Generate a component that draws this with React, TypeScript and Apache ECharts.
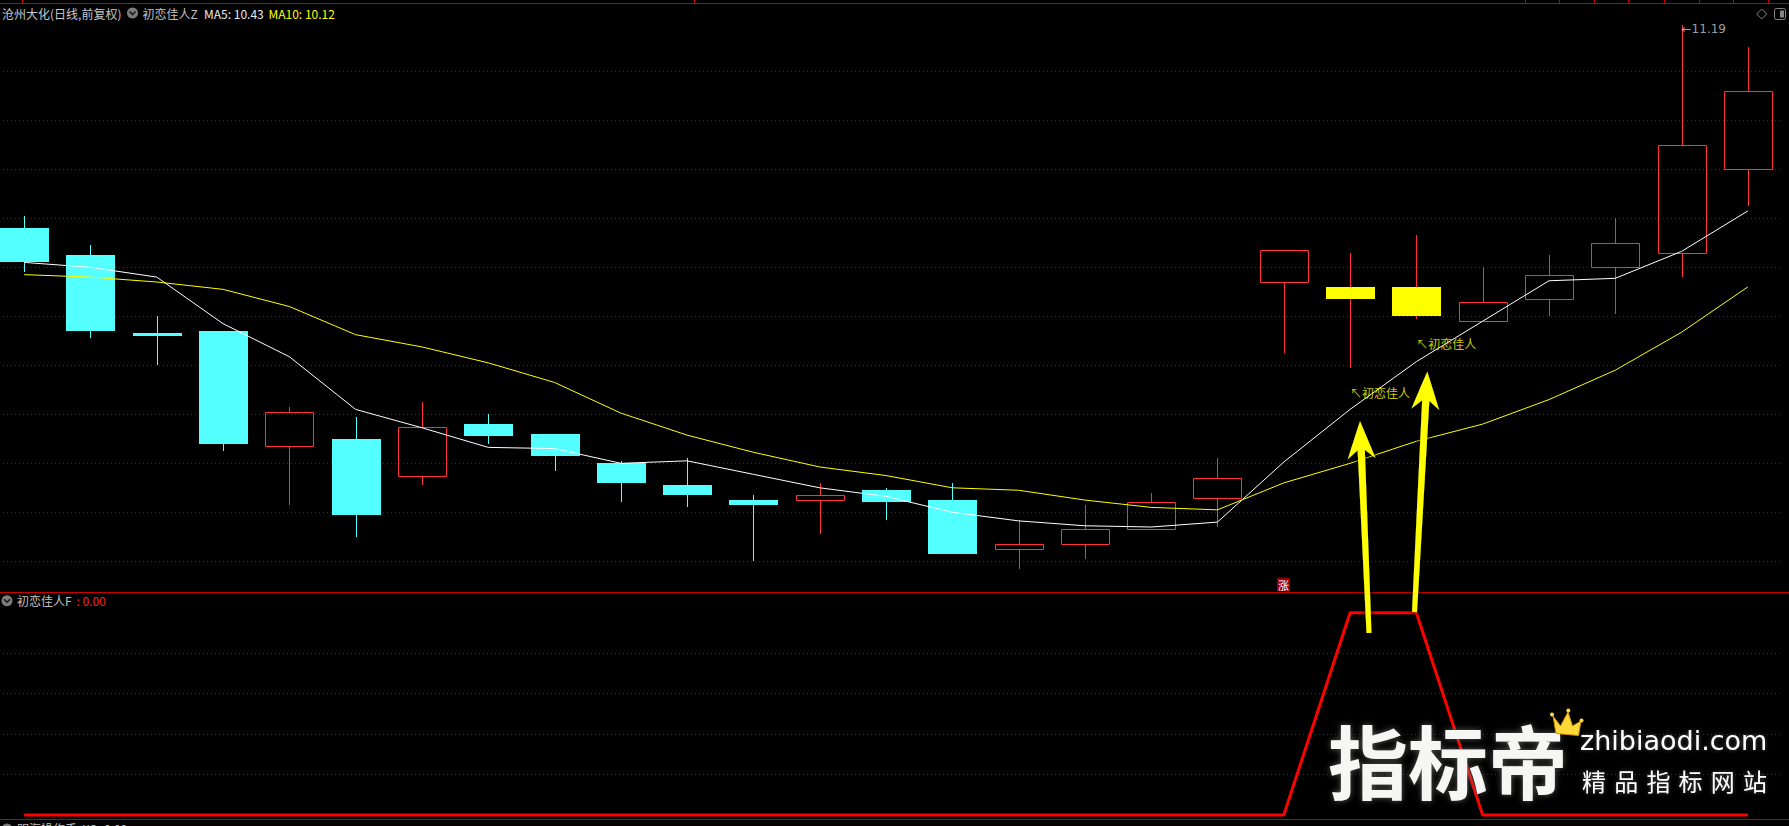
import React, { useEffect, useRef } from "react";
import * as echarts from "echarts";

// ---------------- data ----------------
const categories = [
  "1", "2", "3", "4", "5", "6", "7", "8", "9", "10", "11", "12", "13", "14",
  "15", "16", "17", "18", "19", "20", "21", "22", "23", "24", "25", "26", "27",
];
const opens = [
  10.36, 10.25, 9.93, 9.94, 9.47, 9.5, 9.35, 9.56, 9.52, 9.4, 9.31, 9.25, 9.25, 9.29,
  9.25, 9.05, 9.07, 9.13, 9.26, 10.14, 10.12, 10.12, 9.98, 10.07, 10.2, 10.26, 10.6,
];
const closes = [
  10.22, 9.94, 9.92, 9.48, 9.61, 9.19, 9.55, 9.51, 9.43, 9.32, 9.27, 9.23, 9.27, 9.24,
  9.03, 9.07, 9.13, 9.24, 9.34, 10.27, 10.07, 10.0, 10.06, 10.17, 10.3, 10.7, 10.92,
];
const lows = [
  10.18, 9.91, 9.8, 9.45, 9.23, 9.1, 9.31, 9.48, 9.37, 9.24, 9.22, 9.0, 9.11, 9.17,
  9.03, 8.97, 9.01, 9.13, 9.14, 9.85, 9.79, 9.99, 9.98, 10.0, 10.01, 10.16, 10.45,
];
const highs = [
  10.41, 10.29, 10.0, 9.94, 9.63, 9.59, 9.65, 9.6, 9.52, 9.41, 9.42, 9.27, 9.32, 9.3,
  9.32, 9.17, 9.23, 9.28, 9.42, 10.27, 10.26, 10.33, 10.2, 10.25, 10.4, 11.19, 11.1,
];
const ma5 = [
  10.22, 10.2, 10.16, 9.97, 9.835, 9.62, 9.545, 9.465, 9.46, 9.4, 9.41, 9.355, 9.3, 9.265,
  9.2, 9.165, 9.145, 9.14, 9.16, 9.405, 9.62, 9.815, 9.98, 10.145, 10.155, 10.265, 10.43,
];
const ma10 = [
  10.17, 10.16, 10.14, 10.11, 10.04, 9.925, 9.875, 9.81, 9.73, 9.605, 9.515, 9.445, 9.385, 9.35,
  9.3, 9.29, 9.25, 9.22, 9.21, 9.32, 9.4, 9.49, 9.56, 9.66, 9.78, 9.935, 10.12,
];
const fValues = [
  0, 0, 0, 0, 0, 0, 0, 0, 0, 0, 0, 0, 0, 0,
  0, 0, 0, 0, 0, 0, 1, 1, 0, 0, 0, 0, 0,
];
const signalDays = [20, 21];
const signalLabelPrices = [9.69, 9.89];
const lowMarkIndex = 15;
const lowMarkValue = 8.97;
const highMarkIndex = 25;
const highMarkValue = 11.19;
const titleMA5 = "MA5: 10.43";
const titleMA10 = "MA10: 10.12";
const fTitleValue = ": 0.00";

// ---------------- styles ----------------
const RED = "#ff3333";
const CYAN = "#54ffff";
const YEL = "#ffff00";
const GRIDC = "#a00000";
const BORDER = "#c80000";
const CJK = '"Noto Sans CJK SC", "Noto Sans", sans-serif';

function arrowPoints(tx: number, ty: number, hx: number, hy: number) {
  const dx = hx - tx;
  const dy = hy - ty;
  const len = Math.hypot(dx, dy);
  const ux = dx / len;
  const uy = dy / len;
  const nx = -uy;
  const ny = ux;
  const P = (a: number, s: number) => [tx + ux * a + nx * s, ty + uy * a + ny * s];
  const head = 38;
  const notch = 29;
  const hw = 14;
  return [
    P(0, -2.5),
    P(len - notch, -3.6),
    P(len - head, -hw),
    P(len, 0),
    P(len - head, hw),
    P(len - notch, 3.6),
    P(0, 2.5),
  ];
}

function titleIcon(cx: number, cy: number) {
  return [
    { type: "circle", shape: { cx, cy, r: 5.5 }, style: { fill: "#7c7c7c" }, z: 100 },
    {
      type: "polyline",
      shape: { points: [[cx - 3, cy - 1.5], [cx, cy + 1.5], [cx + 3, cy - 1.5]] },
      style: { stroke: "#1a1a1a", lineWidth: 1.6, fill: "none" },
      z: 101,
    },
  ];
}

function txt(text: string, x: number, y: number, fill: string, size = 12, extra: any = {}) {
  return {
    type: "text",
    x,
    y,
    z: 100,
    style: {
      text,
      fill,
      fontSize: size,
      fontFamily: CJK,
      align: "left",
      textAlign: "left",
      verticalAlign: "middle",
      textVerticalAlign: "middle",
      ...extra,
    },
  };
}

function buildOption() {
  const candleData = categories.map((_, i) => [
    i,
    opens[i],
    closes[i],
    lows[i],
    highs[i],
    signalDays.indexOf(i) >= 0 ? 1 : 0,
  ]);

  const renderCandle = (params: any, api: any) => {
    const idx = api.value(0);
    const o = api.value(1);
    const c = api.value(2);
    const lo = api.value(3);
    const hi = api.value(4);
    const sig = api.value(5);
    const pO = api.coord([idx, o]);
    const yC = api.coord([idx, c])[1];
    const yL = Math.round(api.coord([idx, lo])[1]);
    const yH = Math.round(api.coord([idx, hi])[1]);
    const band = api.size([1, 0])[0];
    const bw = Math.round(band * 0.74);
    const xc = Math.round(pO[0]);
    const left = xc - Math.floor(bw / 2);
    const top = Math.round(Math.min(pO[1], yC));
    const bot = Math.round(Math.max(pO[1], yC));
    const wx = xc + 0.5;
    const children: any[] = [];
    const ln = (y1: number, y2: number, color: string) => ({
      type: "line",
      shape: { x1: wx, y1, x2: wx, y2 },
      style: { stroke: color, lineWidth: 1 },
    });
    if (sig) {
      children.push(ln(yH, yL, RED));
      children.push({
        type: "rect",
        shape: { x: left, y: top, width: bw, height: Math.max(bot - top, 2) },
        style: { fill: YEL },
      });
    } else if (c >= o) {
      if (yH < top) children.push(ln(yH, top, RED));
      if (yL > bot) children.push(ln(bot + 1, yL, RED));
      children.push({
        type: "rect",
        shape: { x: left + 0.5, y: top + 0.5, width: bw - 1, height: Math.max(bot - top, 1) },
        style: { fill: "none", stroke: RED, lineWidth: 1 },
      });
    } else {
      children.push(ln(yH, yL, CYAN));
      children.push({
        type: "rect",
        shape: { x: left, y: top, width: bw, height: Math.max(bot - top, 2) },
        style: { fill: CYAN },
      });
    }
    return { type: "group", children };
  };

  const hiddenAxis = {
    axisLine: { show: false },
    axisTick: { show: false },
    axisLabel: { show: false },
  };
  const dotted = { color: GRIDC, type: [1, 3], width: 1 };

  const topTicks = [22, 694, 1525, 1559, 1594, 1628, 1664, 1699, 1733, 1768];

  const graphic: any[] = [
    // panel borders
    { type: "line", z: 90, shape: { x1: 0, y1: 3.5, x2: 1789, y2: 3.5 }, style: { stroke: BORDER, lineWidth: 1 } },
    ...topTicks.map((x) => ({
      type: "line",
      z: 90,
      shape: { x1: x + 0.5, y1: 0, x2: x + 0.5, y2: 3 },
      style: { stroke: BORDER, lineWidth: 1 },
    })),
    { type: "line", z: 90, shape: { x1: 0, y1: 592.5, x2: 1789, y2: 592.5 }, style: { stroke: BORDER, lineWidth: 1 } },
    { type: "line", z: 90, shape: { x1: 0, y1: 819.5, x2: 1789, y2: 819.5 }, style: { stroke: BORDER, lineWidth: 1 } },

    // top title row
    txt("沧州大化(日线,前复权)", 2, 13, "#c8c8c8"),
    ...titleIcon(132.5, 13),
    txt("初恋佳人Z", 142.5, 13, "#c0c0c0"),
    txt(titleMA5, 204, 13, "#ececec"),
    txt(titleMA10, 268.5, 13, YEL),

    // top-right icons
    {
      type: "polygon",
      z: 100,
      shape: { points: [[1761.7, 9], [1766.7, 14], [1761.7, 19], [1756.7, 14]] },
      style: { fill: "none", stroke: "#858585", lineWidth: 1 },
    },
    {
      type: "rect",
      z: 100,
      shape: { x: 1774.5, y: 8.5, width: 11, height: 11, r: 2 },
      style: { fill: "none", stroke: "#858585", lineWidth: 1 },
    },
    { type: "rect", z: 100, shape: { x: 1780, y: 10.5, width: 4, height: 7 }, style: { fill: "#858585" } },

    // lower panel title
    ...titleIcon(7, 600.7),
    txt("初恋佳人F", 17, 600.7, "#c0c0c0"),
    txt(fTitleValue, 76.5, 600.7, "#ff2020"),

    // third panel title (cut off by the bottom edge, as in the reference)
    ...titleIcon(7, 829),
    txt("明海操作手  XO: 0.00", 17, 822, "#c0c0c0", 12, { verticalAlign: "top", textVerticalAlign: "top" }),

    // "涨" badge
    { type: "rect", z: 100, shape: { x: 1277, y: 578, width: 13, height: 13 }, style: { fill: "#9a0000" } },
    {
      type: "text",
      z: 101,
      x: 1283.5,
      y: 584.5,
      style: {
        text: "涨",
        fill: "#ffffff",
        fontSize: 11,
        fontFamily: CJK,
        align: "center",
        textAlign: "center",
        verticalAlign: "middle",
        textVerticalAlign: "middle",
      },
    },

    // yellow annotation arrows
    {
      type: "polygon",
      z: 120,
      shape: { points: arrowPoints(1369, 633, 1360, 421) },
      style: { fill: YEL, shadowBlur: 6, shadowColor: "rgba(0,0,0,0.95)" },
    },
    {
      type: "polygon",
      z: 120,
      shape: { points: arrowPoints(1414.5, 612, 1427.3, 371.5) },
      style: { fill: YEL, shadowBlur: 6, shadowColor: "rgba(0,0,0,0.95)" },
    },

    // watermark
    {
      type: "text",
      z: 130,
      x: 1328,
      y: 758,
      style: {
        text: "指标帝",
        fill: "#f6f7f4",
        fontSize: 80,
        fontWeight: "bold",
        fontFamily: CJK,
        align: "left",
        textAlign: "left",
        verticalAlign: "middle",
        textVerticalAlign: "middle",
        textShadowColor: "rgba(110,110,110,0.8)",
        textShadowBlur: 6,
      },
    },
    {
      type: "text",
      z: 130,
      x: 1580,
      y: 740,
      style: {
        text: "zhibiaodi.com",
        fill: "#ffffff",
        fontSize: 27,
        fontFamily: '"DejaVu Sans", sans-serif',
        align: "left",
        textAlign: "left",
        verticalAlign: "middle",
        textVerticalAlign: "middle",
        textShadowColor: "rgba(110,110,110,0.7)",
        textShadowBlur: 4,
      },
    },
    ...["精", "品", "指", "标", "网", "站"].map((ch, k) => ({
      type: "text",
      z: 130,
      x: 1582 + k * 32.2,
      y: 780,
      style: {
        text: ch,
        fill: "#ffffff",
        fontSize: 24,
        fontFamily: CJK,
        align: "left",
        textAlign: "left",
        verticalAlign: "middle",
        textVerticalAlign: "middle",
        textShadowColor: "rgba(110,110,110,0.7)",
        textShadowBlur: 4,
      },
    })),
    {
      type: "polygon",
      z: 131,
      shape: {
        points: [[1553, 716], [1560.5, 726], [1568, 712], [1572.5, 726], [1581, 721], [1578.5, 735.5], [1556, 733.5]],
      },
      style: { fill: "#ffd83a", stroke: "#d09000", lineWidth: 1 },
    },
    { type: "circle", z: 132, shape: { cx: 1552, cy: 714.5, r: 2 }, style: { fill: "#ffd83a" } },
    { type: "circle", z: 132, shape: { cx: 1568.3, cy: 710.5, r: 2 }, style: { fill: "#ffd83a" } },
    { type: "circle", z: 132, shape: { cx: 1581.5, cy: 720.5, r: 2 }, style: { fill: "#ffd83a" } },
  ];

  return {
    animation: false,
    backgroundColor: "#000000",
    grid: [
      { left: -9, width: 1790, top: 22.3, height: 539, outerBoundsMode: "none", containLabel: false },
      { left: -9, width: 1790, top: 612.7, height: 202.3, outerBoundsMode: "none", containLabel: false },
    ],
    xAxis: [
      { type: "category", gridIndex: 0, data: categories, boundaryGap: true, splitLine: { show: false }, ...hiddenAxis },
      { type: "category", gridIndex: 1, data: categories, boundaryGap: true, splitLine: { show: false }, ...hiddenAxis },
    ],
    yAxis: [
      {
        type: "value",
        gridIndex: 0,
        min: 9.0,
        max: 11.2,
        interval: 0.2,
        ...hiddenAxis,
        splitLine: { show: true, showMinLine: true, showMaxLine: false, lineStyle: dotted },
      },
      {
        type: "value",
        gridIndex: 1,
        min: 0,
        max: 1,
        interval: 0.2,
        ...hiddenAxis,
        splitLine: { show: true, showMinLine: false, showMaxLine: false, lineStyle: dotted },
      },
    ],
    series: [
      {
        type: "custom",
        name: "K",
        xAxisIndex: 0,
        yAxisIndex: 0,
        clip: false,
        data: candleData,
        encode: { x: 0, y: [1, 2, 3, 4] },
        renderItem: renderCandle,
        z: 3,
      },
      {
        type: "line",
        name: "MA5",
        xAxisIndex: 0,
        yAxisIndex: 0,
        data: ma5,
        showSymbol: false,
        symbol: "none",
        lineStyle: { color: "#ffffff", width: 1 },
        z: 5,
      },
      {
        type: "line",
        name: "MA10",
        xAxisIndex: 0,
        yAxisIndex: 0,
        data: ma10,
        showSymbol: false,
        symbol: "none",
        lineStyle: { color: YEL, width: 1 },
        z: 5,
      },
      {
        type: "scatter",
        name: "初恋佳人",
        xAxisIndex: 0,
        yAxisIndex: 0,
        symbolSize: 0,
        data: signalDays.map((d, k) => [d, signalLabelPrices[k]]),
        label: {
          show: true,
          position: "right",
          distance: 0,
          formatter: "↖初恋佳人",
          color: YEL,
          fontSize: 12,
          fontFamily: CJK,
        },
        z: 6,
      },
      {
        type: "scatter",
        name: "extremes",
        xAxisIndex: 0,
        yAxisIndex: 0,
        symbolSize: 0,
        data: [
          { value: [lowMarkIndex, lowMarkValue], label: { formatter: "←" + lowMarkValue.toFixed(2), offset: [0, 2] } },
          { value: [highMarkIndex, highMarkValue], label: { formatter: "←" + highMarkValue.toFixed(2), offset: [0, 4] } },
        ],
        label: {
          show: true,
          position: "right",
          distance: 0,
          color: "#c8c8c8",
          fontSize: 12,
          fontFamily: '"DejaVu Sans", sans-serif',
        },
        z: 6,
      },
      {
        type: "line",
        name: "初恋佳人F",
        xAxisIndex: 1,
        yAxisIndex: 1,
        data: fValues,
        showSymbol: false,
        symbol: "none",
        clip: false,
        lineStyle: { color: "#ff0000", width: 3 },
        z: 5,
      },
    ],
    graphic,
  };
}

export default function App() {
  const ref = useRef<HTMLDivElement>(null);
  useEffect(() => {
    if (!ref.current) return;
    const chart = echarts.init(ref.current, null, { renderer: "svg" });
    chart.setOption(buildOption() as any);
    return () => chart.dispose();
  }, []);
  return (
    <div
      ref={ref}
      style={{
        position: "fixed",
        left: 0,
        top: 0,
        width: 1789,
        height: 826,
        background: "#000",
        overflow: "hidden",
      }}
    />
  );
}
